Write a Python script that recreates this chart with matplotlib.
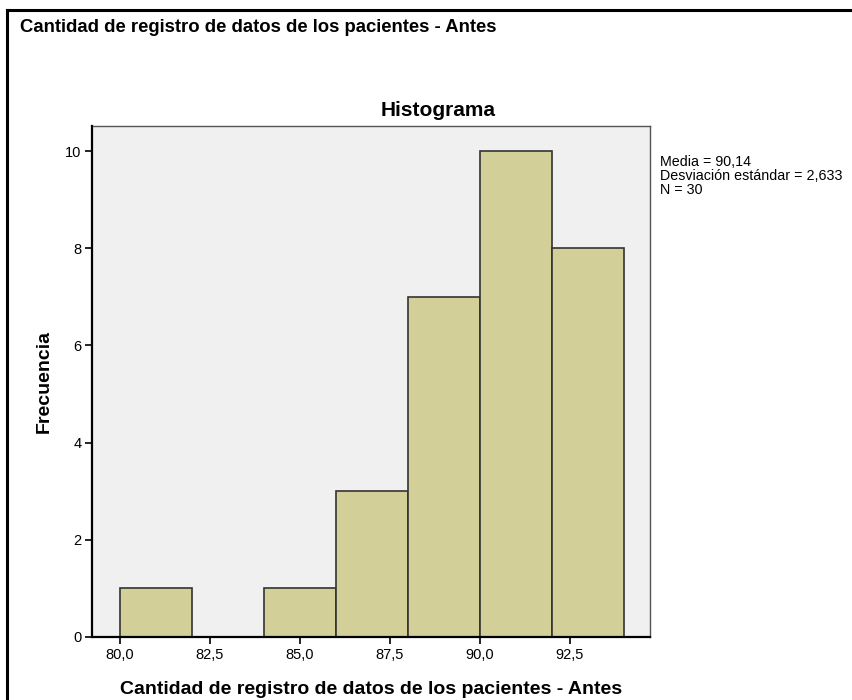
import matplotlib
matplotlib.use("Agg")
import matplotlib.pyplot as plt
from matplotlib.lines import Line2D
from matplotlib.ticker import MultipleLocator, FuncFormatter

plt.rcParams['font.family'] = ['Liberation Sans', 'DejaVu Sans']

# histogram bins (lower edges, width 2) and counts
bin_left = [80, 82, 84, 86, 88, 90, 92]
bin_width = 2
counts = [1, 0, 1, 3, 7, 10, 8]

title = "Cantidad de registro de datos de los pacientes - Antes"
stats = ["Media = 90,14", "Desviación estándar = 2,633", "N = 30"]

W, H = 853, 700
fig = plt.figure(figsize=(W / 100, H / 100), dpi=100)
fig.patch.set_facecolor('white')

# frame of the cropped output window
fig.add_artist(Line2D([7 / W, 7 / W], [0, 1 - 10 / H], color='black', lw=2.2))
fig.add_artist(Line2D([7 / W, 1], [1 - 10 / H, 1 - 10 / H], color='black', lw=2.2))

fig.text(20 / W, 1 - 28 / H, title, ha='left', va='center',
         fontsize=13.3, fontweight='bold')

ax_l, ax_r, ax_t, ax_b = 92.5, 650, 126, 636.7
ax = fig.add_axes([ax_l / W, 1 - ax_b / H, (ax_r - ax_l) / W, (ax_b - ax_t) / H])
ax.set_facecolor('#F0F0F0')
ax.bar(bin_left, counts, width=bin_width, align='edge',
       color='#D3CF98', edgecolor='#333333', linewidth=1.2, zorder=2)

ax.set_xlim(79.24, 94.73)
ax.set_ylim(0, 10.52)
ax.xaxis.set_major_locator(MultipleLocator(2.5))
ax.yaxis.set_major_locator(MultipleLocator(2))
ax.xaxis.set_major_formatter(FuncFormatter(lambda v, p: f"{v:.1f}".replace('.', ',')))
ax.yaxis.set_major_formatter(FuncFormatter(lambda v, p: f"{v:.0f}"))
ax.tick_params(axis='both', direction='out', length=5, width=1.2,
               labelsize=10.5, color='black', pad=3)

for side in ['top', 'right']:
    ax.spines[side].set_color('#555555')
    ax.spines[side].set_linewidth(1.0)
for side in ['left', 'bottom']:
    ax.spines[side].set_color('black')
    ax.spines[side].set_linewidth(1.6)

ax.set_xlabel(title, fontsize=14, fontweight='bold', va='center')
ax.xaxis.set_label_coords(0.5, (ax_b - 689) / (ax_b - ax_t))
ax.set_ylabel("Frecuencia", fontsize=14, fontweight='bold', va='center')
ax.yaxis.set_label_coords((44 - ax_l) / (ax_r - ax_l), 0.5)

fig.text(438 / W, 1 - 110 / H, "Histograma", ha='center', va='center',
         fontsize=15, fontweight='bold')

fig.text(660 / W, 1 - 155 / H, "\n".join(stats), ha='left', va='top',
         fontsize=10.3, linespacing=1.0)

fig.savefig("out.png", dpi=100)
